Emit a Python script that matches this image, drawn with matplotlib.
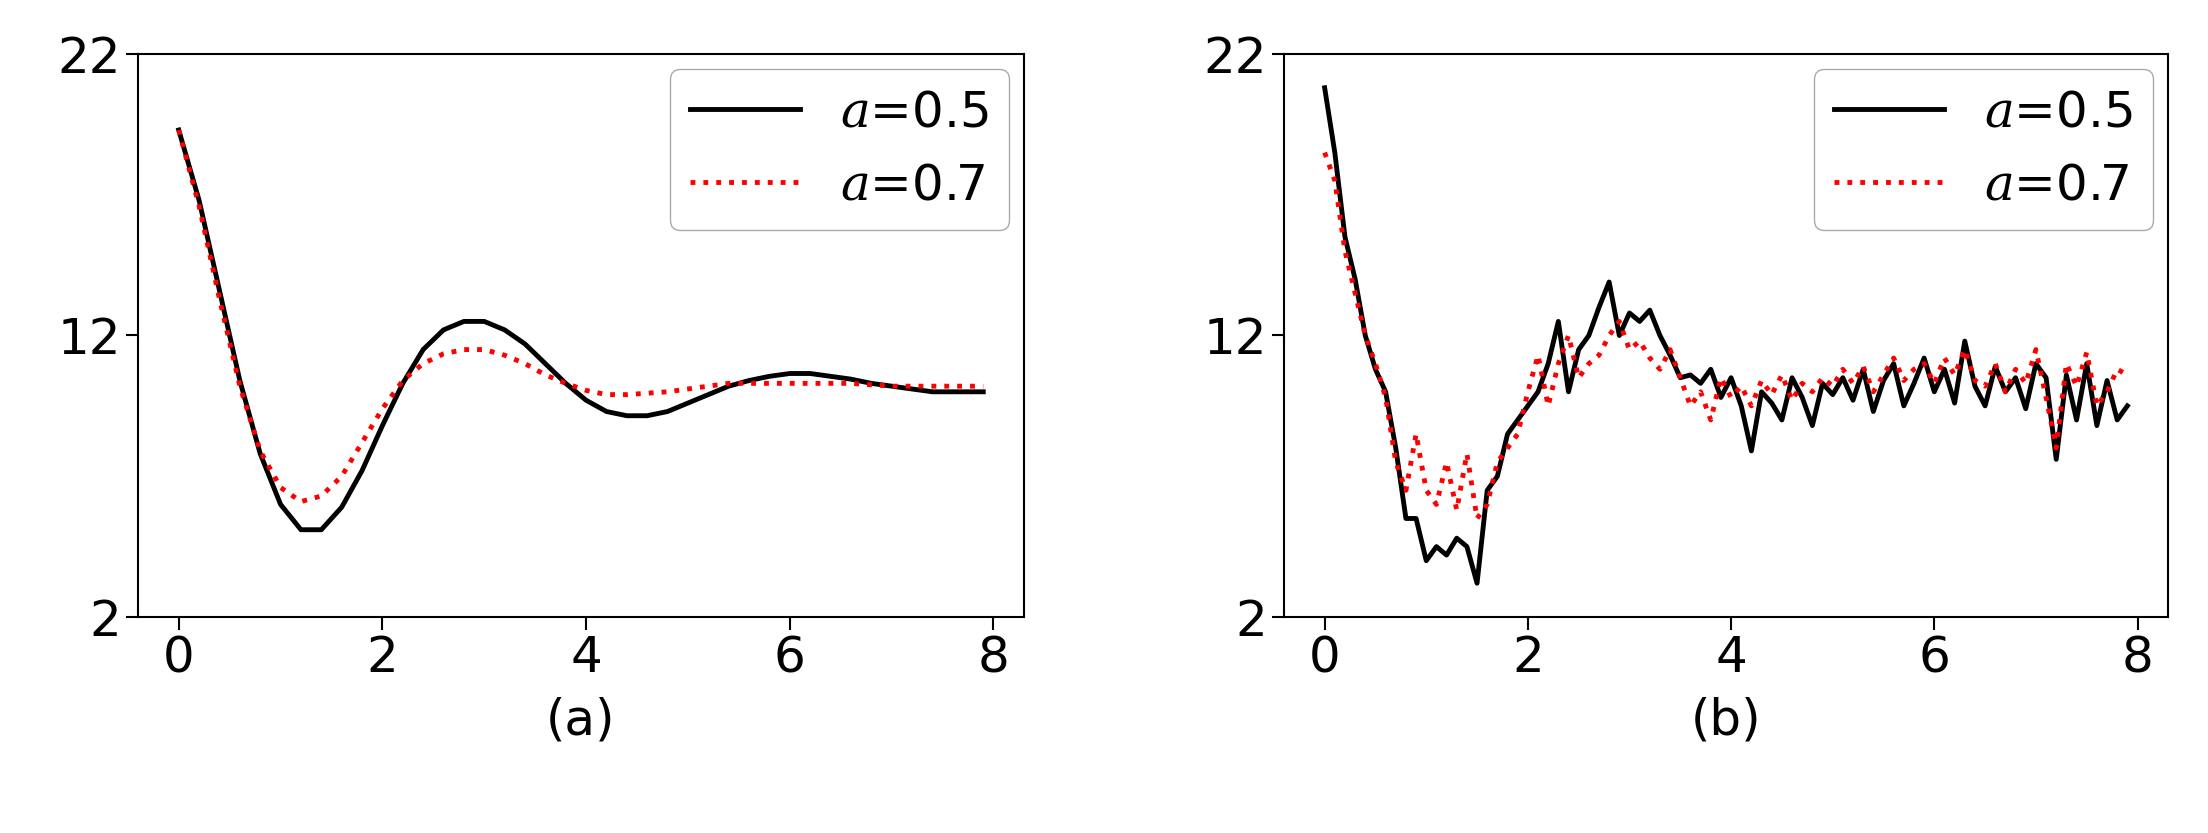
import numpy as np
import matplotlib.pyplot as plt

# panel (a): smooth curves, sampled every 0.2
xa = [0.0, 0.2, 0.4, 0.6, 0.8, 1.0, 1.2, 1.4, 1.6, 1.8, 2.0, 2.2, 2.4, 2.6, 2.8, 3.0,
      3.2, 3.4, 3.6, 3.8, 4.0, 4.2, 4.4, 4.6, 4.8, 5.0, 5.2, 5.4, 5.6, 5.8, 6.0,
      6.2, 6.4, 6.6, 6.8, 7.0, 7.2, 7.4, 7.6, 7.9]
ya_05 = [19.3, 16.8, 13.6, 10.4, 7.8, 6.0, 5.1, 5.1, 5.9, 7.2, 8.8, 10.3, 11.5, 12.2, 12.5, 12.5,
         12.2, 11.7, 11.0, 10.3, 9.7, 9.3, 9.15, 9.15, 9.3, 9.6, 9.9, 10.2, 10.4, 10.55, 10.65,
         10.65, 10.55, 10.45, 10.3, 10.2, 10.1, 10.0, 10.0, 10.0]
ya_07 = [19.3, 16.6, 13.3, 10.2, 7.9, 6.6, 6.1, 6.3, 7.0, 8.2, 9.4, 10.4, 11.0, 11.35, 11.5, 11.5,
         11.3, 11.0, 10.6, 10.3, 10.05, 9.9, 9.9, 9.95, 10.0, 10.1, 10.2, 10.3, 10.3, 10.3, 10.3,
         10.3, 10.3, 10.3, 10.25, 10.2, 10.2, 10.2, 10.2, 10.2]

# panel (b): noisy curves, sampled every 0.1
xb = [round(0.1 * i, 1) for i in range(80)]
yb_05 = [20.8, 18.5, 15.5, 14.0, 12.0, 10.8, 10.0, 8.0, 5.5, 5.5, 4.0, 4.5, 4.2, 4.8, 4.5, 3.2,
         6.5, 7.0, 8.5, 9.0, 9.5, 10.0, 11.0, 12.5, 10.0, 11.5, 12.0, 13.0, 13.9, 12.0,
         12.8, 12.5, 12.9, 12.0, 11.3, 10.5, 10.6, 10.3, 10.8, 9.8, 10.5, 9.5, 7.9, 10.0,
         9.6, 9.0, 10.5, 9.8, 8.8, 10.3, 9.9, 10.5, 9.7, 10.8, 9.3, 10.4, 11.0, 9.5, 10.3,
         11.2, 10.0, 10.8, 9.6, 11.8, 10.2, 9.5, 10.9, 10.0, 10.5, 9.4, 11.0, 10.5, 7.6,
         10.6, 9.0, 11.0, 8.8, 10.4, 9.0, 9.5]
yb_07 = [18.5, 17.5, 15.0, 13.5, 12.0, 11.0, 9.8, 7.5, 6.5, 8.5, 6.5, 6.0, 7.5, 5.8, 7.8, 5.5,
         6.0, 7.5, 8.0, 8.5, 10.0, 11.3, 9.5, 11.0, 12.0, 10.5, 11.0, 11.3, 12.0, 12.5,
         11.5, 11.8, 11.2, 10.8, 11.5, 10.5, 9.5, 10.0, 9.0, 10.5, 9.8, 10.2, 9.5, 10.4,
         9.9, 10.6, 9.7, 10.3, 10.0, 10.5, 10.2, 10.8, 10.3, 10.9, 10.0, 10.6, 11.2, 10.4,
         10.8, 11.0, 10.3, 11.2, 10.6, 11.5, 10.4, 10.2, 11.0, 10.0, 10.8, 10.3, 11.5, 9.8,
         8.0, 11.0, 10.2, 11.4, 9.5, 10.0, 10.8, 10.6]

plt.rcParams['font.family'] = ['DejaVu Sans']
plt.rcParams['mathtext.fontset'] = 'dejavuserif'
fig = plt.figure(figsize=(22.08, 8.33), dpi=100)
ax1 = fig.add_axes([138 / 2208, 1 - 617 / 833, 886 / 2208, 563 / 833])
ax2 = fig.add_axes([1284 / 2208, 1 - 617 / 833, 884 / 2208, 563 / 833])

panels = [(ax1, xa, ya_05, ya_07, '(a)'), (ax2, xb, yb_05, yb_07, '(b)')]
for ax, x, y5, y7, lab in panels:
    ax.plot(x, y5, color='black', lw=3.5, label='$a$=0.5')
    ax.plot(x, y7, color='red', lw=3.5, ls=':', label='$a$=0.7')
    ax.set_ylim(2, 22)
    ax.set_yticks([2, 12, 22])
    ax.set_xticks([0, 2, 4, 6, 8])
    ax.set_xlim(-0.4, 8.3)
    ax.tick_params(labelsize=36, length=9, width=1.5)
    for s in ax.spines.values():
        s.set_linewidth(1.5)
    ax.set_xlabel(lab, fontsize=36, labelpad=10)
    ax.legend(loc='upper right', fontsize=36, handlelength=2.2, framealpha=1,
              edgecolor='#aaaaaa', fancybox=True, borderaxespad=0.3)

fig.savefig('out.png', dpi=100)
